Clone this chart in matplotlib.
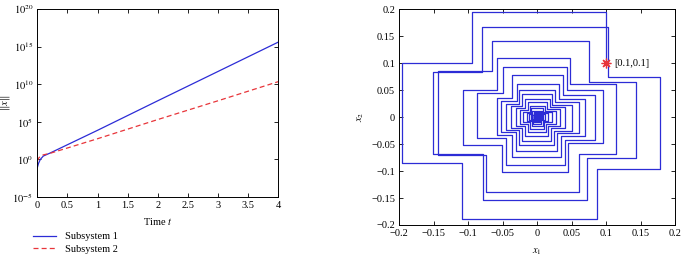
import matplotlib
matplotlib.use("Agg")
import matplotlib.pyplot as plt
import numpy as np

plt.rcParams['font.family'] = ['Liberation Serif', 'DejaVu Serif']
plt.rcParams['mathtext.fontset'] = 'stix'
plt.rcParams['font.size'] = 7.5

# left panel: norm of the state for the two subsystems
t = [0, 0.02, 0.05, 0.1, 0.2, 1, 2, 3, 4]
sub1 = [0.08, 0.3, 1.0, 2.8, 6.3, 7.4e3, 6.3e7, 5.0e11, 4.0e15]
sub2 = [0.6, 1.4, 2.5, 4.0, 6.0, 5.6e2, 2.0e5, 6.3e7, 2.2e10]
log_ticks = [1e-5, 1e0, 1e5, 1e10, 1e15, 1e20]
log_labels = ['$10^{-5}$', '$10^{0}$', '$10^{5}$', '$10^{10}$', '$10^{15}$', '$10^{20}$']
t_ticks = [0, 0.5, 1, 1.5, 2, 2.5, 3, 3.5, 4]

# right panel: phase trajectory, one row per loop of the spiral
# columns: TR, T, TL, LT, L, LB, BL, B, BR, RB, R, RT
x0 = [0.1, 0.1]
loops = [
    [0.100, 0.194, -0.095, 0.100, -0.196, -0.085, -0.109, -0.188, 0.087, -0.096, 0.178, 0.075],
    [0.102, 0.166, -0.080, 0.083, -0.151, -0.068, -0.078, -0.153, 0.072, -0.075, 0.143, 0.064],
    [0.075, 0.141, -0.066, 0.086, -0.144, -0.071, -0.074, -0.138, 0.060, -0.068, 0.114, 0.062],
    [0.048, 0.109, -0.058, 0.050, -0.107, -0.052, -0.051, -0.101, 0.045, -0.049, 0.096, 0.050],
    [0.043, 0.092, -0.049, 0.044, -0.087, -0.039, -0.046, -0.089, 0.040, -0.042, 0.084, 0.041],
    [0.038, 0.077, -0.036, 0.035, -0.059, -0.034, -0.036, -0.074, 0.034, -0.035, 0.070, 0.034],
    [0.032, 0.062, -0.030, 0.030, -0.052, -0.028, -0.031, -0.062, 0.029, -0.029, 0.060, 0.028],
    [0.026, 0.051, -0.026, 0.025, -0.045, -0.024, -0.027, -0.052, 0.024, -0.025, 0.050, 0.022],
    [0.021, 0.042, -0.022, 0.021, -0.038, -0.020, -0.022, -0.044, 0.020, -0.021, 0.041, 0.019],
    [0.018, 0.033, -0.017, 0.016, -0.031, -0.016, -0.017, -0.035, 0.016, -0.016, 0.033, 0.015],
    [0.014, 0.027, -0.014, 0.013, -0.025, -0.013, -0.014, -0.028, 0.013, -0.013, 0.027, 0.012],
    [0.011, 0.021, -0.011, 0.010, -0.020, -0.010, -0.011, -0.022, 0.010, -0.010, 0.021, 0.009],
    [0.009, 0.016, -0.009, 0.008, -0.015, -0.008, -0.008, -0.017, 0.008, -0.008, 0.016, 0.007],
    [0.007, 0.012, -0.007, 0.006, -0.012, -0.006, -0.006, -0.013, 0.006, -0.006, 0.012, 0.005],
    [0.005, 0.009, -0.005, 0.004, -0.009, -0.004, -0.005, -0.010, 0.004, -0.004, 0.009, 0.004],
    [0.004, 0.007, -0.004, 0.003, -0.007, -0.003, -0.004, -0.008, 0.003, -0.003, 0.007, 0.003],
    [0.003, 0.005, -0.003, 0.002, -0.005, -0.002, -0.003, -0.006, 0.002, -0.002, 0.005, 0.002],
]
lin_ticks = [-0.2, -0.15, -0.1, -0.05, 0, 0.05, 0.1, 0.15, 0.2]
lin_labels = ['\u22120.2', '\u22120.15', '\u22120.1', '\u22120.05', '0', '0.05', '0.1', '0.15', '0.2']

blue = '#2c2cd6'
red = '#e8353a'

fig = plt.figure(figsize=(6.85, 2.63), dpi=100)
ax1 = fig.add_axes([0.0545, 0.251, 0.352, 0.715])
ax2 = fig.add_axes([0.583, 0.1445, 0.4025, 0.821])

ax1.semilogy(t, sub1, color=blue, lw=0.9, label='Subsystem 1')
ax1.semilogy(t, sub2, color=red, lw=0.9, ls=(0, (4, 2.5)), label='Subsystem 2')
ax1.set_xlim(0, 4)
ax1.set_ylim(1e-5, 1e20)
ax1.set_xticks(t_ticks)
ax1.set_xticklabels([f'{v:g}' for v in t_ticks])
ax1.set_yticks(log_ticks)
ax1.set_yticklabels(log_labels)
ax1.minorticks_off()
ax1.set_xlabel('Time $t$', labelpad=4)
ax1.set_ylabel(r'$\|x\|$')
ax1.yaxis.set_label_coords(-0.105, 0.5)

# build the spiral path from the loop table
xs, ys = [x0[0]], [x0[1]]
prev_rt = x0[1]
for TR, T, TL, LT, L, LB, BL, B, BR, RB, R, RT in loops:
    xs += [TR, TR, TL, TL, L, L, BL, BL, BR, BR, R, R]
    ys += [prev_rt, T, T, LT, LT, LB, LB, B, B, RB, RB, RT]
    prev_rt = RT
xs.append(0.0)
ys.append(prev_rt)
xs.append(0.0)
ys.append(0.0)

ax2.plot(xs, ys, color=blue, lw=0.9)
ax2.plot(0, 0, 'o', color=blue, ms=5)
ax2.plot(x0[0], x0[1], marker=(8, 2, 0), color=red, ms=7, mew=0.9)
ax2.text(0.112, 0.1, '[0.1,0.1]', va='center', ha='left', fontsize=7.5)
ax2.set_xlim(-0.2, 0.2)
ax2.set_ylim(-0.2, 0.2)
ax2.set_xticks(lin_ticks)
ax2.set_xticklabels(lin_labels)
ax2.set_yticks(lin_ticks)
ax2.set_yticklabels(lin_labels)
ax2.set_xlabel('$x_1$', labelpad=6)
ax2.set_ylabel('$x_2$', labelpad=4)

for ax in (ax1, ax2):
    ax.tick_params(direction='in', top=True, right=True, length=3, width=0.6, pad=3)
    for s in ax.spines.values():
        s.set_linewidth(0.7)

fig.legend(loc='lower left', bbox_to_anchor=(0.035, 0.0), frameon=False,
           fontsize=7.5, handlelength=2.2, labelspacing=0.3)

fig.savefig('out.png', dpi=100)
